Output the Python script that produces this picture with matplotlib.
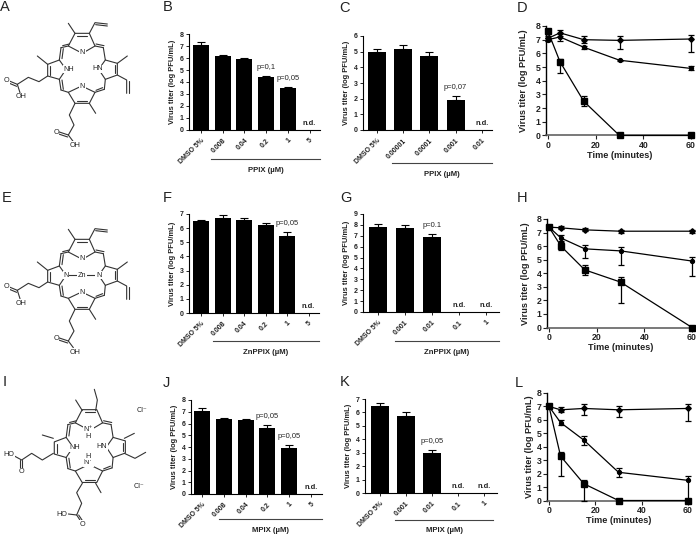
import matplotlib
matplotlib.use('Agg')
import matplotlib.pyplot as plt

plt.rcParams['font.family'] = ['Liberation Sans', 'DejaVu Sans']

W, H = 696, 535
TXT = '#222222'

# --- bar panels: values
doses_bj = ['DMSO 5%', '0.008', '0.04', '0.2', '1', '5']
doses_c = ['DMSO 5%', '0.00001', '0.0001', '0.001', '0.01']
doses_g = ['DMSO 5%', '0.001', '0.01', '0.1', '1']

b_vals = [7.1, 6.2, 5.9, 4.45, 3.5, 0]
b_errs = [0.2, 0.05, 0.12, 0.05, 0.1, 0]
c_vals = [4.95, 5.15, 4.7, 1.9, 0]
c_errs = [0.2, 0.25, 0.3, 0.3, 0]
f_vals = [6.5, 6.75, 6.55, 6.2, 5.45, 0]
f_errs = [0.07, 0.17, 0.15, 0.15, 0.28, 0]
g_vals = [7.8, 7.7, 6.9, 0, 0]
g_errs = [0.25, 0.25, 0.25, 0, 0]
j_vals = [7.05, 6.4, 6.3, 5.65, 3.9, 0]
j_errs = [0.25, 0.05, 0.05, 0.2, 0.27, 0]
k_vals = [6.5, 5.7, 3.0, 0, 0]
k_errs = [0.17, 0.3, 0.23, 0, 0]

# --- time course panels
times = [0, 5, 15, 30, 60]

d_top = [7.1, 7.5, 7.0, 6.95, 7.05]
d_top_lo = [0.2, 0.2, 0.25, 0.6, 0.95]
d_top_hi = [0.2, 0.2, 0.25, 0.3, 0.3]
d_mid = [7.0, 7.2, 6.45, 5.5, 4.9]
d_mid_lo = [0.1, 0.3, 0.1, 0.05, 0.15]
d_mid_hi = [0.1, 0.3, 0.1, 0.05, 0.15]
d_low = [7.6, 5.4, 2.5, 0, 0]
d_low_lo = [0.2, 0.8, 0.35, 0, 0]
d_low_hi = [0.2, 0.2, 0.35, 0, 0]

h_top = [7.4, 7.35, 7.2, 7.1, 7.1]
h_top_lo = [0.05, 0.1, 0.1, 0.1, 0.1]
h_top_hi = [0.05, 0.1, 0.1, 0.1, 0.1]
h_mid = [7.4, 6.6, 5.8, 5.65, 4.9]
h_mid_lo = [0.1, 0.2, 0.7, 1.05, 1.1]
h_mid_hi = [0.1, 0.2, 0.3, 0.3, 0.3]
h_low = [7.4, 6.0, 4.25, 3.35, 0]
h_low_lo = [0.1, 0.3, 0.35, 1.55, 0]
h_low_hi = [0.1, 0.3, 0.35, 0.35, 0]

l_top = [7.0, 6.75, 6.85, 6.75, 6.85]
l_top_lo = [0.1, 0.2, 0.5, 0.55, 0.95]
l_top_hi = [0.1, 0.2, 0.3, 0.3, 0.3]
l_mid = [7.0, 5.8, 4.5, 2.1, 1.5]
l_mid_lo = [0.1, 0.2, 0.4, 0.35, 1.5]
l_mid_hi = [0.1, 0.2, 0.3, 0.3, 0.35]
l_low = [7.0, 3.3, 1.25, 0, 0]
l_low_lo = [0.1, 1.45, 1.25, 0, 0]
l_low_hi = [0.1, 0.3, 0.25, 0, 0]

fig = plt.figure(figsize=(W / 100, H / 100), dpi=100)

# overlay in pixel coords, for the structures, letters and drug labels
bg = fig.add_axes([0, 0, 1, 1])
bg.set_xlim(0, W)
bg.set_ylim(H, 0)
bg.axis('off')


def make_ax(left, right, y0, ytop):
    ax = fig.add_axes([left / W, 1 - y0 / H, (right - left) / W, (y0 - ytop) / H])
    ax.patch.set_alpha(0)
    for s in ['top', 'right']:
        ax.spines[s].set_visible(False)
    return ax


def bar_panel(vals, errs, labels, ymax, ax_x, ax_end, c0, dx, bw, y0, ytop, notes, nd, drug, line, drug_y):
    ax = make_ax(ax_x, ax_end, y0, ytop)
    pos = list(range(len(vals)))
    n = len(vals) - len(nd)
    ax.bar(pos, vals, width=bw / dx, color='black')
    ax.errorbar(pos[:n], vals[:n], yerr=[[0] * n, errs[:n]],
                fmt='none', ecolor='black', elinewidth=0.8, capsize=2.6, capthick=0.8)
    ax.set_xlim((ax_x - c0) / dx, (ax_end - c0) / dx)
    ax.set_ylim(0, ymax)
    ax.set_yticks(range(ymax + 1))
    ax.set_xticks(pos)
    ax.set_xticklabels(labels, rotation=45, ha='right', rotation_mode='anchor')
    ax.tick_params(length=2.2, width=0.7, pad=1.5, labelsize=5, colors=TXT)
    ax.tick_params(axis='x', pad=3)
    for lab in ax.get_xticklabels() + ax.get_yticklabels():
        lab.set_fontweight('bold')
    for s in ['left', 'bottom']:
        ax.spines[s].set_linewidth(0.8)
    ax.set_ylabel('Virus titer (log PFU/mL)', fontsize=5.4, fontweight='bold', color=TXT, labelpad=2.5)
    for i, txt in notes:
        ax.annotate(txt, (i, vals[i] + errs[i]), xytext=(0, 3.5), textcoords='offset points',
                    ha='center', va='bottom', fontsize=5.4, color=TXT)
    for i in nd:
        ax.annotate('n.d.', (i, 0), xytext=(0, 2.5), textcoords='offset points',
                    ha='center', va='bottom', fontsize=5.4, fontweight='bold', color=TXT)
    bg.plot(line[:2], [line[2], line[2]], color='#444444', lw=0.8)
    bg.text((line[0] + line[1]) / 2, drug_y, drug + ' (\u00b5M)', ha='center', va='center',
            fontsize=5.6, fontweight='bold', color=TXT)
    return ax


def time_panel(series, x0, x60, y0, y8, ypad):
    left = x0 - 2
    px_per_min = (x60 - x0) / 60
    ax = make_ax(left, x60 + 2, y0 + 0.5, y8)
    for (vals, lo, hi, mk, ms) in series:
        ax.errorbar(times, vals, yerr=[lo, hi], color='black', marker=mk, ms=ms, lw=0.9,
                    elinewidth=0.9, capsize=2.4, capthick=0.9, clip_on=False, zorder=3)
    ax.set_xlim(-2 / px_per_min, 60 + 2 / px_per_min)
    ax.set_ylim(0, 8)
    ax.set_xticks([0, 20, 40, 60])
    ax.set_yticks(range(9))
    ax.tick_params(length=2.8, width=0.8, pad=1.2, labelsize=6.3, colors=TXT)
    for lab in ax.get_xticklabels() + ax.get_yticklabels():
        lab.set_fontweight('bold')
    ax.spines['bottom'].set_linewidth(1.1)
    ax.spines['bottom'].set_color('#555555')
    ax.spines['left'].set_linewidth(1.0)
    ax.set_xlabel('Time (minutes)', fontsize=6.6, fontweight='bold', color=TXT, labelpad=1)
    ax.set_ylabel('Virus titer (log PFU/mL)', fontsize=6.6, fontweight='bold', color=TXT, labelpad=ypad)
    return ax


bar_panel(b_vals, b_errs, doses_bj, 8, 189, 320, 201, 21.7, 16, 130, 34,
          [(3, 'p=0,1'), (4, 'p=0,05')], [5], 'PPIX', (211, 320, 159), 170)
bar_panel(c_vals, c_errs, doses_c, 6, 363, 492, 377, 26.2, 18, 130, 36,
          [(3, 'p=0,07')], [4], 'PPIX', (392, 492, 163), 174)
bar_panel(f_vals, f_errs, doses_bj, 7, 189, 319, 201, 21.5, 16, 313, 214,
          [(4, 'p=0,05')], [5], 'ZnPPIX', (213, 319, 341), 352)
bar_panel(g_vals, g_errs, doses_g, 9, 363, 499, 378, 27, 18, 312, 214,
          [(2, 'p=0.1')], [3, 4], 'ZnPPIX', (395, 499, 341), 352)
bar_panel(j_vals, j_errs, doses_bj, 8, 191, 322, 202, 21.8, 16, 494, 400,
          [(3, 'p=0,05'), (4, 'p=0,05')], [5], 'MPIX', (219, 322, 519), 530)
bar_panel(k_vals, k_errs, doses_g, 7, 365, 497, 380, 26, 18, 493, 399,
          [(2, 'p=0,05')], [3, 4], 'MPIX', (395, 493, 520), 531)

time_panel([(d_top, d_top_lo, d_top_hi, 'D', 2.8), (d_mid, d_mid_lo, d_mid_hi, 'o', 2.8),
            (d_low, d_low_lo, d_low_hi, 's', 3.8)], 548, 691, 135, 26, 5)
time_panel([(h_top, h_top_lo, h_top_hi, 'D', 2.8), (h_mid, h_mid_lo, h_mid_hi, 'o', 2.8),
            (h_low, h_low_lo, h_low_hi, 's', 3.8)], 549, 692, 327, 219, 4.5)
time_panel([(l_top, l_top_lo, l_top_hi, 'D', 2.8), (l_mid, l_mid_lo, l_mid_hi, 'o', 2.8),
            (l_low, l_low_lo, l_low_hi, 's', 3.8)], 549, 688, 500, 393, 2)

# panel letters
letters = [('A', 5, 7), ('B', 168, 7), ('C', 345, 8), ('D', 522, 8),
           ('E', 7, 198), ('F', 167, 198), ('G', 346, 198), ('H', 522, 198),
           ('I', 5, 382), ('J', 166, 383), ('K', 345, 382), ('L', 519, 383)]
for s, x, y in letters:
    bg.text(x, y, s, fontsize=10.5, ha='center', va='center', color='#222222')


# --- chemical structures, traced in pixels of the picture
def seg(pts, ox, oy, sx=1.0, sy=1.0, lw=0.8):
    xs = [p[0] * sx / 3 + ox for p in pts]
    ys = [p[1] * sy / 3 + oy for p in pts]
    bg.plot(xs, ys, color='#333333', lw=lw, solid_capstyle='round', solid_joinstyle='round')


def label(txt, x, y, ox, oy, sx=1.0, sy=1.0):
    bg.text(x * sx / 3 + ox, y * sy / 3 + oy, txt, fontsize=5.2, ha='center', va='center',
            color='#222222', bbox=dict(fc='white', ec='none', pad=0.4))


macro = [
    [(183, 143), (205, 138), (225, 100), (268, 100), (285, 138), (310, 143)],
    [(205, 138), (247, 160), (285, 138)],
    [(232, 108), (262, 108)],
    [(288, 132), (312, 137)], [(188, 137), (208, 132)],
    [(183, 143), (178, 180), (143, 193), (143, 228), (178, 238), (183, 270)],
    [(178, 180), (198, 208), (178, 238)],
    [(150, 198), (150, 224)],
    [(190, 146), (186, 176)], [(190, 268), (186, 240)],
    [(310, 143), (316, 180), (352, 190), (352, 225), (316, 238), (313, 268)],
    [(316, 180), (296, 208), (316, 238)],
    [(345, 196), (345, 220)],
    [(183, 270), (205, 277), (225, 310), (268, 310), (285, 277), (313, 268)],
    [(205, 277), (245, 258), (285, 277)],
    [(232, 302), (262, 302)],
    [(288, 271), (308, 263)],
]
subs_ppix = [
    [(225, 100), (205, 70)],
    [(268, 100), (285, 68), (322, 72)], [(287, 74), (322, 78)],
    [(143, 193), (112, 168)],
    [(143, 228), (117, 245), (85, 232), (52, 253), (60, 278)],
    [(52, 253), (28, 243)], [(50, 259), (26, 249)],
    [(352, 190), (382, 168)],
    [(352, 225), (380, 240), (380, 280)], [(386, 244), (386, 280)],
    [(225, 310), (208, 345), (222, 375), (205, 405), (220, 425)],
    [(205, 405), (178, 396)], [(203, 411), (176, 402)],
    [(268, 310), (287, 340)],
]
ox_a, oy_a = 0, 0
for p in macro + subs_ppix:
    seg(p, ox_a, oy_a)
for t, x, y in [('N', 247, 158), ('NH', 206, 208), ('HN', 292, 206), ('N', 247, 260),
                ('O', 20, 243), ('OH', 63, 290), ('O', 168, 398), ('OH', 226, 436)]:
    label(t, x, y, ox_a, oy_a)

ox_e, oy_e = 0, 206
for p in macro + subs_ppix:
    seg(p, ox_e, oy_e)
seg([(198, 208), (296, 208)], ox_e, oy_e)
for t, x, y in [('N', 247, 158), ('N', 198, 208), ('Zn', 246, 208), ('N', 296, 208), ('N', 247, 260),
                ('O', 20, 243), ('OH', 63, 292), ('O', 168, 398), ('OH', 226, 438)]:
    label(t, x, y, ox_e, oy_e)

# the mesoporphyrin is traced in its own zoomed coords, so the ring gets scaled
sx_i, sy_i = 1.02, 1.04
ox_i, oy_i = 17 / 3, 355 + 60 / 3
for p in macro:
    seg(p, ox_i, oy_i, sx_i, sy_i)
subs_mpix = [
    [(287, 167), (292, 135), (283, 103)],
    [(373, 295), (405, 310), (437, 292)],
    [(373, 250), (403, 235)],
    [(160, 250), (127, 240)],
    [(247, 167), (227, 135)],
    [(160, 295), (127, 315), (95, 295), (65, 315), (43, 303)],
    [(65, 315), (65, 343)], [(60, 315), (60, 343)],
    [(247, 385), (230, 413), (245, 445), (230, 480), (205, 477)],
    [(230, 480), (243, 500)], [(236, 480), (248, 498)],
    [(287, 385), (303, 413)],
]
for p in subs_mpix:
    seg(p, 0, 355)
for t, x, y in [('N\u207a', 265, 224), ('H', 265, 245), ('N\u207a', 265, 323), ('H', 265, 303),
                ('NH', 225, 278), ('HN', 305, 275), ('HO', 27, 297), ('O', 63, 350),
                ('HO', 185, 477), ('O', 247, 507), ('Cl\u207b', 425, 167), ('Cl\u207b', 418, 393)]:
    label(t, x, y, 0, 355)

fig.savefig('out.png', dpi=100)
